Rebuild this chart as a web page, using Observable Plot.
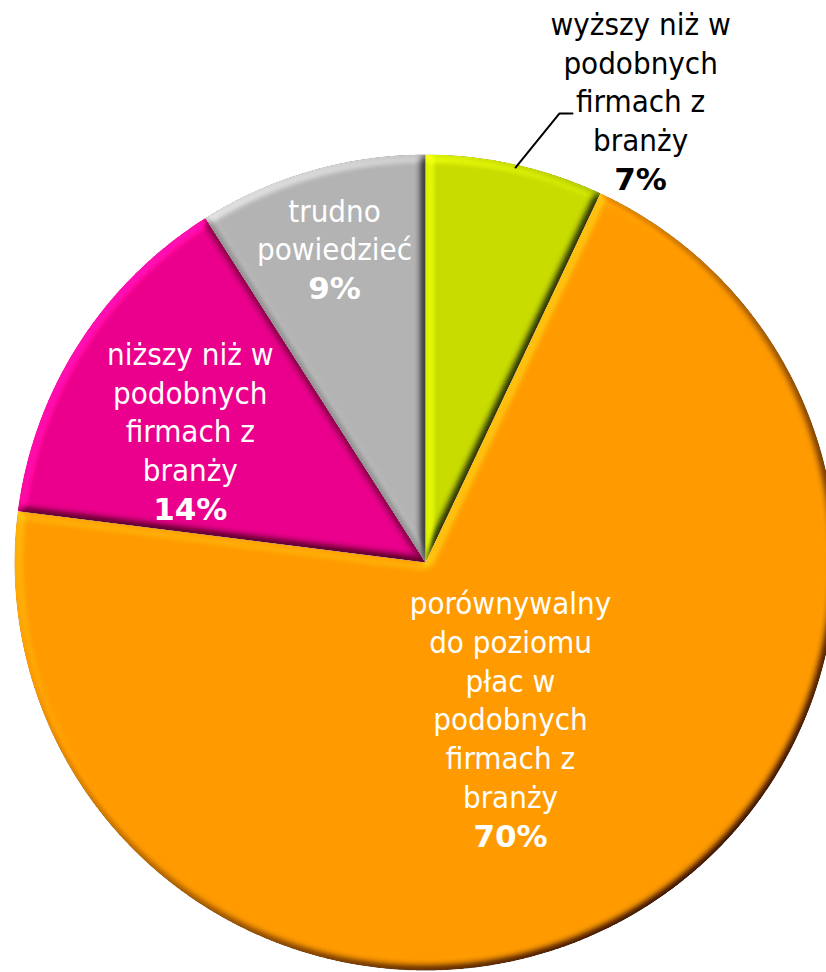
<!DOCTYPE html>
<html>
<head>
<meta charset="utf-8">
<script src="https://cdn.jsdelivr.net/npm/d3@7"></script>
<script src="https://cdn.jsdelivr.net/npm/@observablehq/plot@0.6"></script>
<style>
  html, body { margin: 0; padding: 0; background: #ffffff; }
  #chart { width: 826px; height: 972px; overflow: hidden; }
</style>
</head>
<body>
<div id="chart"></div>
<script>
// ---- data ----
const categories = [
  "wyższy niż w podobnych firmach z branży",
  "porównywalny do poziomu płac w podobnych firmach z branży",
  "niższy niż w podobnych firmach z branży",
  "trudno powiedzieć"
];
const values = [7, 70, 14, 9];
const labelLines = [
  ["wyższy niż w", "podobnych", "firmach z", "branży"],
  ["porównywalny", "do poziomu", "płac w", "podobnych", "firmach z", "branży"],
  ["niższy niż w", "podobnych", "firmach z", "branży"],
  ["trudno", "powiedzieć"]
];
const palette = ["#c8dc00", "#ff9b00", "#ea008c", "#b3b3b3"];

// ---- layout ----
const W = 826, H = 972, CX = 425, CY = 562, RX = 411, RY = 408;
const deg = Math.PI / 180;
// label placement per slice: [radius (pie units), angle offset from mid-angle (deg), outside?]
const labelPlace = [[1.243, 12.3, true], [0.439, 0.7, false], [0.655, -3.3, false], [0.796, 0.05, false]];
const lineStep = 38.7 / RY;

const arcs = d3.pie().sort(null).value(d => d)(values);

// slice outlines, computed from the pie angles
const slicePts = [];
arcs.forEach((a, i) => {
  slicePts.push({cat: categories[i], x: 0, y: 0});
  const n = Math.ceil((a.endAngle - a.startAngle) / (0.25 * deg));
  for (let k = 0; k <= n; k++) {
    const t = a.startAngle + (a.endAngle - a.startAngle) * k / n;
    slicePts.push({cat: categories[i], x: Math.sin(t), y: Math.cos(t)});
  }
});

// text rows
const textRows = [];
arcs.forEach((a, i) => {
  const [r, off, outside] = labelPlace[i];
  const t = (a.startAngle + a.endAngle) / 2 + off * deg;
  const cx = r * Math.sin(t), cy = r * Math.cos(t);
  const lines = labelLines[i].concat([values[i] + "%"]);
  const n = lines.length;
  lines.forEach((s, j) => {
    textRows.push({
      x: cx,
      y: cy + ((n - 1) / 2 - j) * lineStep,
      text: s,
      bold: j === n - 1,
      outside
    });
  });
});

// leader line for the outside label
const leader = [];
arcs.forEach((a, i) => {
  if (!labelPlace[i][2]) return;
  const mid = (a.startAngle + a.endAngle) / 2;
  const t0 = mid + 0.15 * deg, t1 = mid + 3.9 * deg;
  const ex = 1.148 * Math.sin(t1), ey = 1.148 * Math.cos(t1);
  leader.push({x: 0.9925 * Math.sin(t0), y: 0.9925 * Math.cos(t0)});
  leader.push({x: ex, y: ey});
  leader.push({x: ex + 13 / RX, y: ey});
});

const normalFont = "'DejaVu Sans Condensed', 'DejaVu Sans', sans-serif";
const boldFont = "'DejaVu Sans', sans-serif";

const svg = Plot.plot({
  width: W,
  height: H,
  margin: 0,
  style: {background: "#ffffff", overflow: "hidden"},
  x: {domain: [-1, 1], range: [CX - RX, CX + RX], axis: null},
  y: {domain: [-1, 1], range: [CY + RY, CY - RY], axis: null},
  color: {domain: categories, range: palette},
  marks: [
    Plot.line(slicePts, {x: "x", y: "y", z: "cat", fill: "cat", stroke: "none", curve: "linear-closed"}),
    Plot.line(leader, {x: "x", y: "y", stroke: "#000", strokeWidth: 2, curve: "linear"}),
    Plot.text(textRows.filter(d => !d.bold && !d.outside), {x: "x", y: "y", text: "text", fill: "#fff", fontSize: 31, fontFamily: normalFont, textAnchor: "middle", lineAnchor: "middle"}),
    Plot.text(textRows.filter(d => d.bold && !d.outside), {x: "x", y: "y", text: "text", fill: "#fff", fontSize: 31, fontWeight: "bold", fontFamily: boldFont, textAnchor: "middle", lineAnchor: "middle"}),
    Plot.text(textRows.filter(d => !d.bold && d.outside), {x: "x", y: "y", text: "text", fill: "#000", fontSize: 31, fontFamily: normalFont, textAnchor: "middle", lineAnchor: "middle"}),
    Plot.text(textRows.filter(d => d.bold && d.outside), {x: "x", y: "y", text: "text", fill: "#000", fontSize: 31, fontWeight: "bold", fontFamily: boldFont, textAnchor: "middle", lineAnchor: "middle"})
  ]
});

// bevel lighting effect on the slices
const ns = "http://www.w3.org/2000/svg";
const defs = document.createElementNS(ns, "defs");
defs.innerHTML = `
<filter id="bevel" x="-10%" y="-10%" width="120%" height="120%" color-interpolation-filters="sRGB">
  <feGaussianBlur in="SourceAlpha" stdDeviation="4" result="blur"/>
  <feDiffuseLighting in="blur" surfaceScale="6" diffuseConstant="1" lighting-color="#ffffff" result="diff">
    <feDistantLight azimuth="225" elevation="50"/>
  </feDiffuseLighting>
  <feComposite in="SourceGraphic" in2="diff" operator="arithmetic" k1="0.75" k2="0.425" k3="0.25" k4="-0.1915" result="lit"/>
  <feComposite in="lit" in2="SourceAlpha" operator="in"/>
</filter>`;
svg.insertBefore(defs, svg.firstChild);
const sliceGroup = svg.querySelectorAll('g[aria-label="line"]')[0];
sliceGroup.querySelectorAll("path").forEach(p => p.setAttribute("filter", "url(#bevel)"));

document.getElementById("chart").appendChild(svg);
</script>
</body>
</html>
